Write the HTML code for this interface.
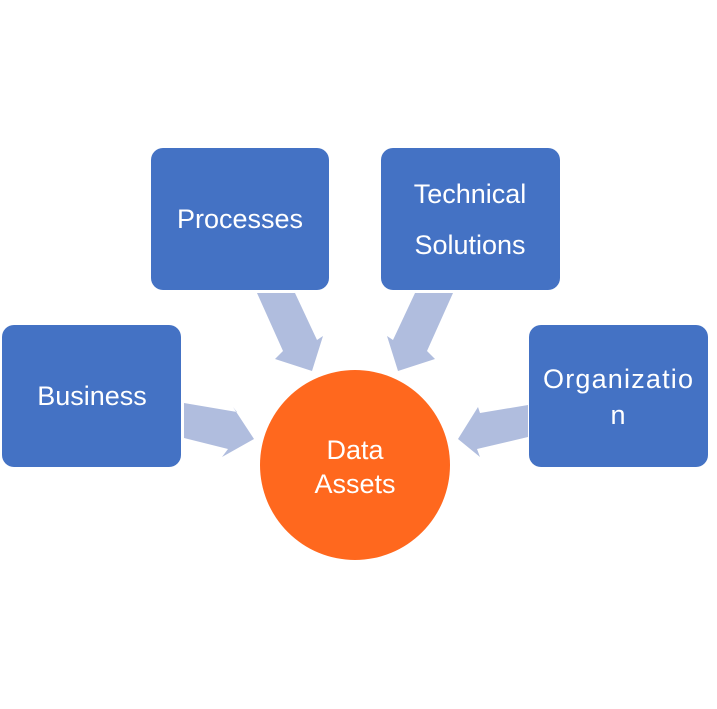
<!DOCTYPE html>
<html><head><style>
body{margin:0;width:717px;height:709px;background:#fff;overflow:hidden}
svg{display:block}
text{font-family:"Liberation Sans",sans-serif;font-size:27px;fill:#fff;text-anchor:middle}
</style></head><body>
<svg width="717" height="709" viewBox="0 0 717 709">
<g fill="#B0BDDE">
<polygon points="257,293 295,293 317,340 323,336 312,371 275,359 283,351"/>
<polygon points="453,293 415,293 393,340 387,336 398,371 435,359 427,351"/>
<polygon points="184,403 237,412 233,407 254,439 222,457 228,449 184,438"/>
<polygon points="528,405 480,413 478,407 458,439 480,457 477,449 528,437"/>
</g>
<g fill="#4472C4">
<rect x="151" y="148" width="178" height="142" rx="12"/>
<rect x="381" y="148" width="179" height="142" rx="12"/>
<rect x="2" y="325" width="179" height="142" rx="12"/>
<rect x="529" y="325" width="179" height="142" rx="12"/>
</g>
<circle cx="355" cy="465" r="95" fill="#FF681E"/>
<text x="240" y="228">Processes</text>
<text x="470" y="203">Technical</text>
<text x="470" y="254">Solutions</text>
<text x="92" y="405">Business</text>
<text x="618" y="388" textLength="150">Organizatio</text>
<text x="618" y="424">n</text>
<text x="355" y="459">Data</text>
<text x="355" y="493">Assets</text>
</svg>
</body></html>
